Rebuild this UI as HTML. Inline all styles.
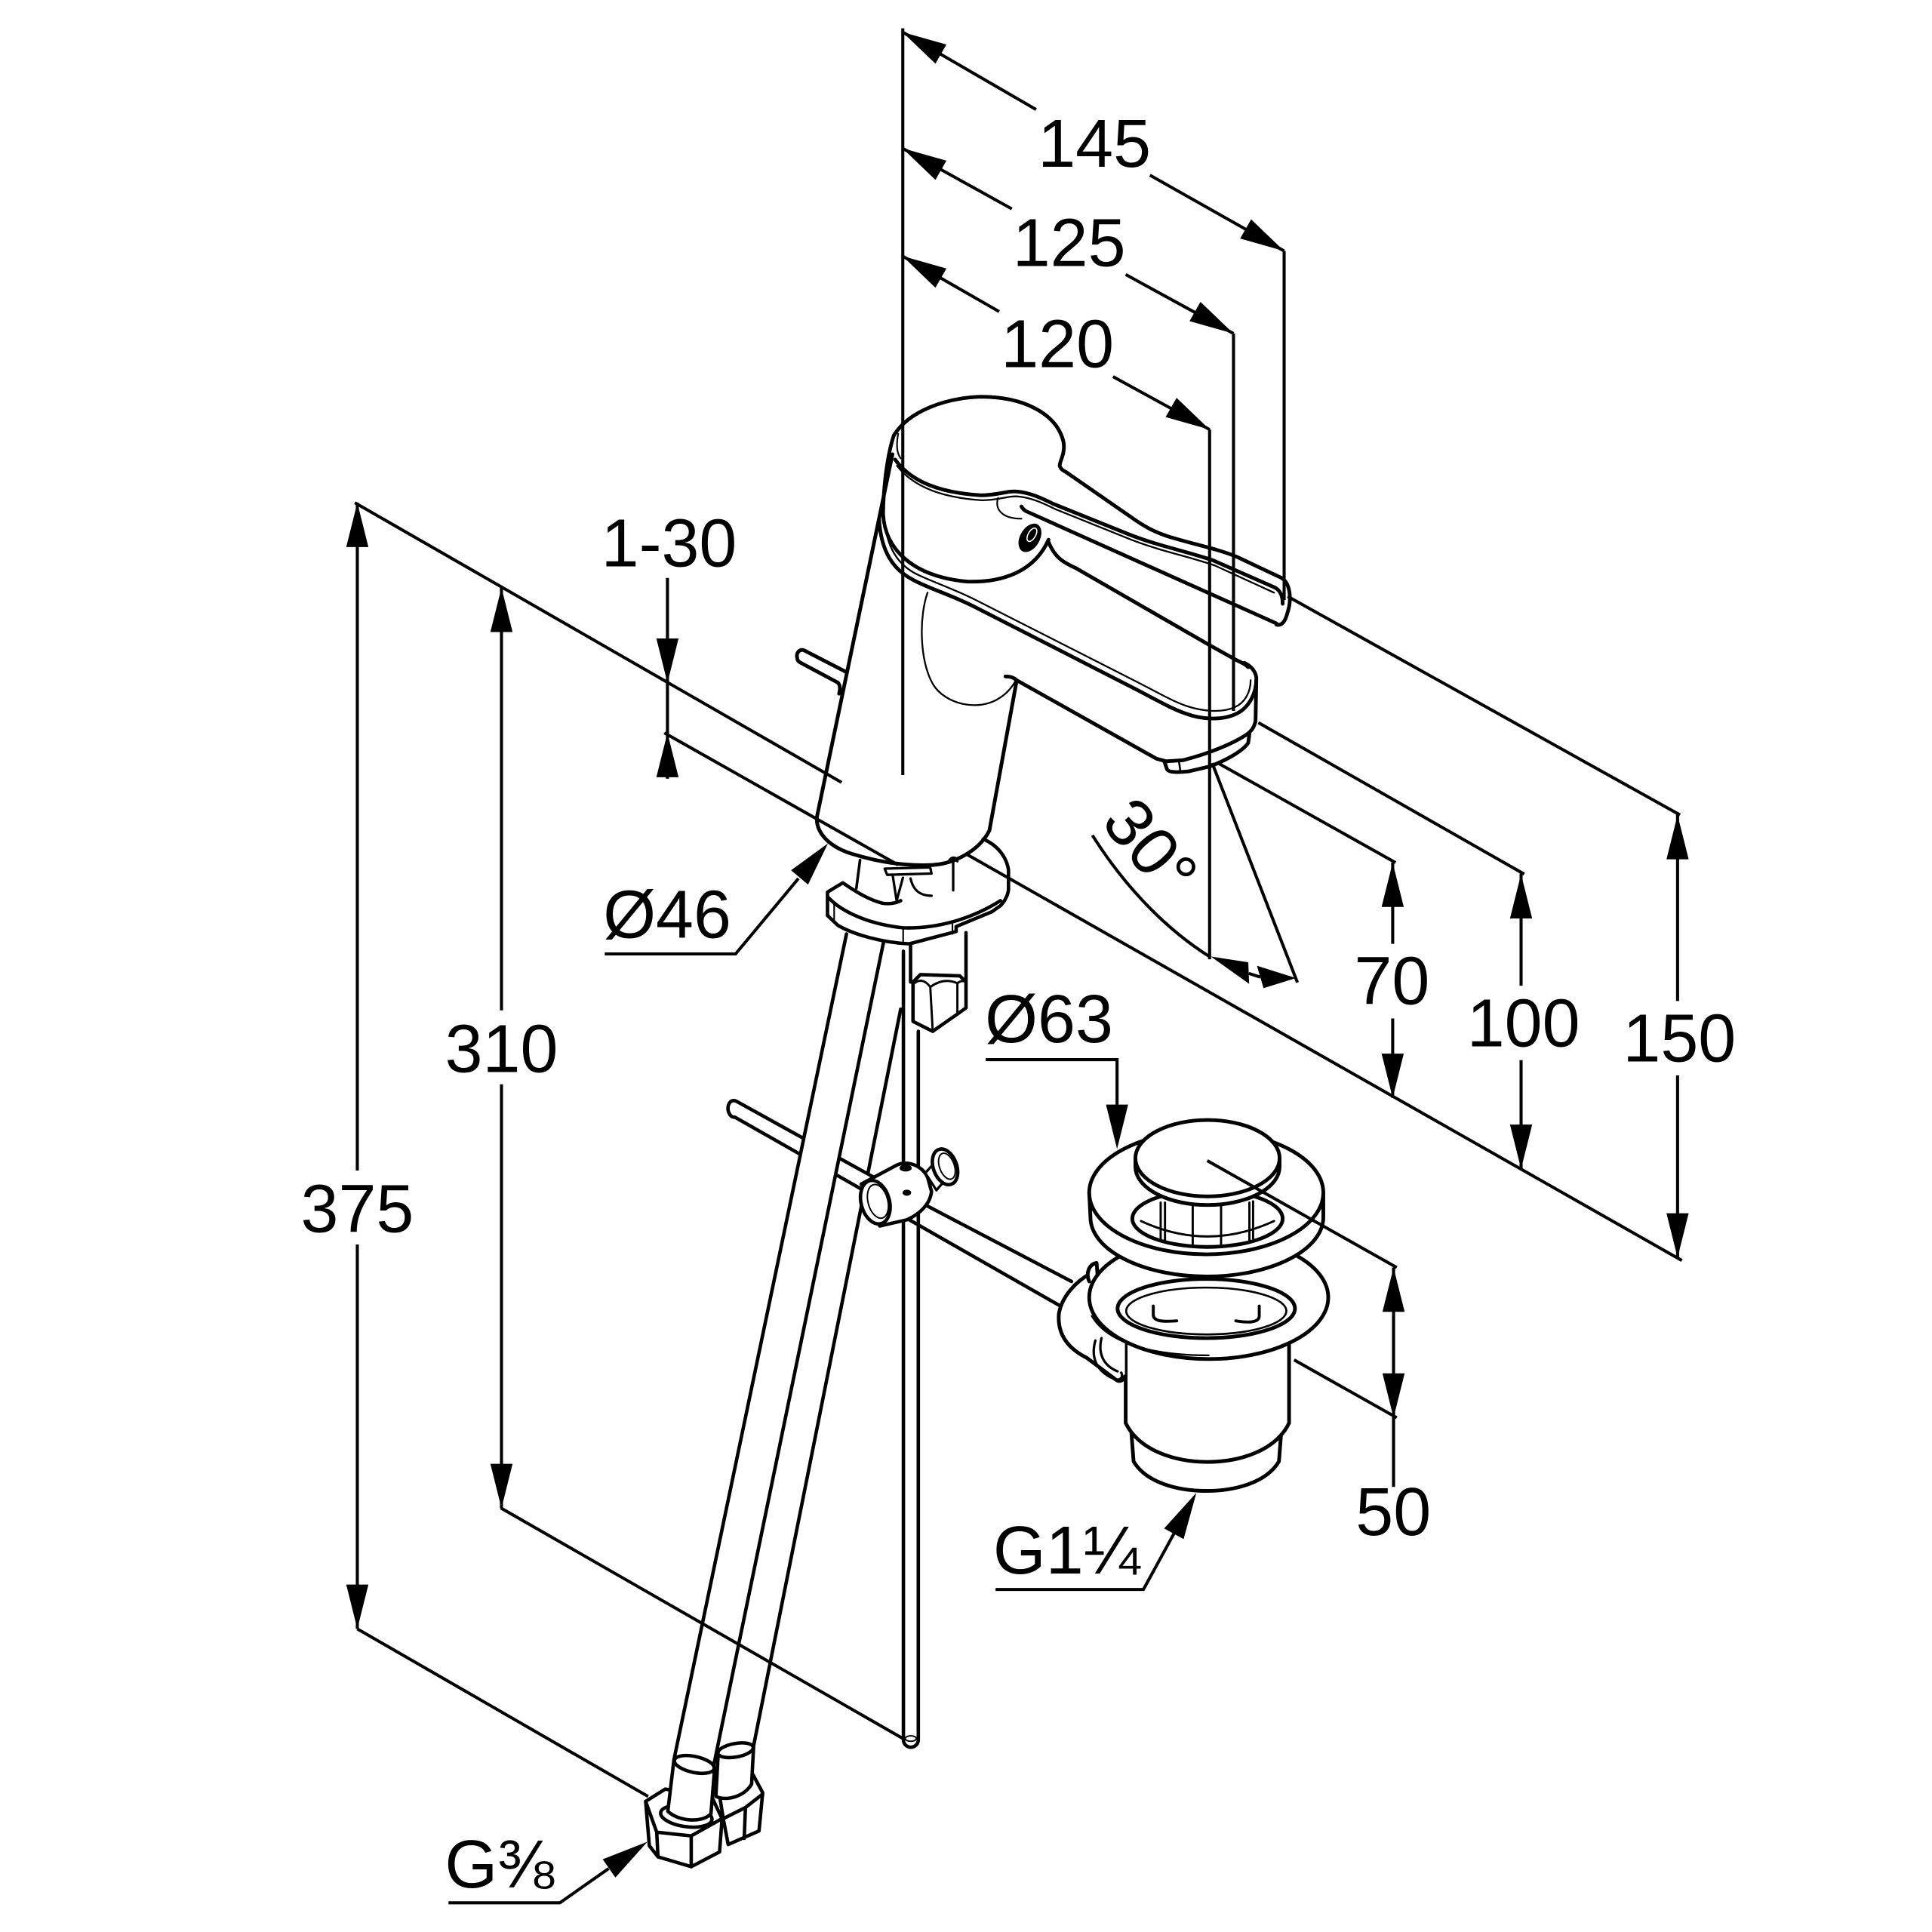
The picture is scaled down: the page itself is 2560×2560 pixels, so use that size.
<!DOCTYPE html>
<html><head><meta charset="utf-8"><style>html,body{margin:0;padding:0;background:#fff}svg{display:block}</style></head>
<body>
<svg xmlns="http://www.w3.org/2000/svg" width="2560" height="2560" viewBox="0 0 1568 1568">
<rect width="1568" height="1568" fill="#fff"/>

<!-- ===== HOSES / RODS (back) ===== -->
<g stroke="#000" stroke-width="2.8" stroke-linejoin="round" stroke-linecap="round">
  <!-- hose 2 -->
  <polygon points="705,795 731,819 611,1420 583,1426" fill="#fff" stroke="none"/>
  <path d="M731,819 L611,1420" fill="none"/>
  <!-- pop-up rod left part -->
  <path d="M712,957 L597.7,893.8 C592,891 589,899 592,904 C593,906 595,907 596.5,906.7 L706,969" fill="#fff"/>
  <!-- hose 1 -->
  <polygon points="687,758 717,765 579,1434 547,1428" fill="#fff" stroke="none"/>
  <path d="M687,758 L547,1428 M717,765 L579,1434" fill="none"/>
  <!-- vertical pull rod -->
  <path d="M733.2,772 L733.2,1412 A6 6 0 0 0 745.3,1412 L745.3,837" fill="#fff"/>
  <ellipse cx="739.2" cy="1411" rx="4.5" ry="2.2" fill="none" stroke-width="1.2"/>
  <!-- rod right part to drain -->
  <path d="M738.9,971.6 L869.6,1040 M730.8,985.9 L861.4,1060.4" fill="none"/>
  <!-- clamp -->
  <path d="M699,961 L727,946 C736,941 749,946 753,956 L756,967 C755,977 747,985 736,990 L714,995 Z" fill="#fff"/>
  <path d="M751,952 L759,943 L771,953 L760,966 Z" fill="#fff" stroke-width="2"/>
  <ellipse cx="767" cy="947" rx="9.5" ry="15" transform="rotate(-20 767 947)" fill="#fff"/>
  <ellipse cx="768.5" cy="946.5" rx="6" ry="11" transform="rotate(-20 768.5 946.5)" fill="none" stroke-width="1.2"/>
  <ellipse cx="710.4" cy="975.7" rx="11.5" ry="18" transform="rotate(-15 710.4 975.7)" fill="#fff"/>
  <ellipse cx="712.5" cy="975" rx="8" ry="14" transform="rotate(-15 712.5 975)" fill="none" stroke-width="1.2"/>
  <ellipse cx="735" cy="948" rx="5" ry="2.8" fill="#000" stroke="none"/>
  <ellipse cx="736" cy="968" rx="3.5" ry="2.5" fill="#000" stroke="none"/>

  <!-- nut 2 + sleeve 2 -->
  <polygon points="583,1451 598,1439 611,1440 619,1455 616,1486 591,1497 587,1476" fill="#fff"/>
  <path d="M587,1476 L605,1467 L619,1456 M605,1467 L604,1492" fill="none"/>
  <path d="M583,1421 L581,1458 C590,1462 604,1458 610,1448 L611.6,1418 Z" fill="#fff"/>
  <ellipse cx="597" cy="1420.5" rx="14.5" ry="5.5" transform="rotate(-10 597 1420.5)" fill="#fff"/>
  <!-- nut 1 + sleeve 1 -->
  <polygon points="524,1462 540,1452 578,1459 586,1476 584,1503 561,1515 534,1507 527,1498" fill="#fff"/>
  <path d="M524,1462 L533,1487 L561,1490 L586,1476 M533,1487 L534,1507 M561,1490 L561,1515" fill="none"/>
  <ellipse cx="557" cy="1474" rx="21" ry="8.5" transform="rotate(8 557 1474)" fill="none"/>
  <path d="M547,1428 L542,1470 C550,1478 570,1480 577,1472 L580,1435 Z" fill="#fff"/>
  <ellipse cx="563.5" cy="1432" rx="16.5" ry="6.5" transform="rotate(12 563.5 1432)" fill="#fff"/>
</g>

<!-- ===== ESCUTCHEON / NUT ===== -->
<g stroke="#000" stroke-width="2.8" stroke-linejoin="round" stroke-linecap="round">
  <path d="M671.6,743 L671.6,724 L684,716.5 C692,722 704,730 716,733 L731,731 L760,705 L798,681 C810,686 817,696 818.5,706 L818.5,722 C818,727 815,732 812,735 L805,740 L776,752 L776,756 L738,766 C715,765 692,758 680,751 Z" fill="#fff" stroke="none"/>
  <path d="M671.6,743 L671.6,724 L684,716.5 C692,722 704,730 716,733 C722,734 727,733 731,731" fill="none"/>
  <path d="M798,681 C810,686 817,696 818.5,706 L818.5,722 C818,727 815,732 812,735 L805,740 L776,752 L776,756 L738,766 C715,765 692,758 680,751 L671.6,743" fill="none"/>
  <path d="M672.6,728.7 C683,740 705,750 733,753 C760,754 788,746 812,731" fill="none"/>
  <path d="M733,753 L733,766 M773,750 L773,758 M677,733 L677,747" fill="none" stroke-width="1.3"/>
  <path d="M739,766 L739,797 M784,757 L784,797" fill="none"/>
  <polygon points="741,797 747,791 779,792 784,797 784,818 777,823 757,837 741,829" fill="#fff"/>
  <path d="M741,799 Q748,792 755,801 Q766,793 777,798 Q781,795 784,797 M755,801 L757,837 M777,798 L777,823" fill="none" stroke-width="1.8"/>
</g>

<!-- ===== FAUCET BODY ===== -->
<g fill="none" stroke="#000" stroke-width="3" stroke-linejoin="round" stroke-linecap="round">
  <!-- lever top outline -->
  <path d="M725.4,353.4 C738,333 768,323 796,322 C830,322 857,335 863,358 C865,368 860,374 860,378 C861,381 863,382 865,383 L917,419 C928,427 937,432 950,436 C970,442 990,446 1004,452 L1040,469 C1048,474 1048,488 1045,497 C1043,505 1040,508 1036,507"/>
  <!-- lever underside -->
  <path d="M829,411 C830,413 831,414 833,415 L1036,506"/>
  <!-- bevel double line -->
  <path d="M726.5,373 C740,392 765,400 796,402 C810,402 818,398 826,399 C836,400 845,404 855,409 L917,434 C940,443 965,448 985,455 L1035,477 C1040,480 1041,485 1041,490"/>
  <path d="M728,378 C742,396 766,404 797,406 C811,406 819,402 827,403 C837,404 846,408 856,413 L918,438 C941,447 966,452 986,459 L1034,481" stroke-width="1.4"/>
  <path d="M729,352 C727,362 728,368 731,372" stroke-width="1.3"/>
  <!-- handle side and bottom -->
  <path d="M725.4,353.4 C720,370 717,395 716.7,417"/>
  <path d="M716.7,417 C718,445 740,468 785,472 C815,473 840,463 851,438"/>
  <!-- ring + spout near edge -->
  <path d="M713.4,421 C715,448 725,462 740,470 C752,477 770,482 790,492 L916.8,556.8 C935,566 950,575 962,579 C975,584 992,585 1004,579 C1014,574 1020,562 1019.6,550 C1019,545 1016,541 1010,538"/>
  <path d="M718,423 C720,446 730,459 744,466 C756,472 772,477 792,487 L918,551 C936,560 951,569 963,573 C975,577 991,579 1002,574 C1011,570 1015,561 1015,552" stroke-width="1.4"/>
  <!-- spout far edge -->
  <path d="M851,440 C856,452 862,456 873,461 L982.4,524 L1004,536 C1008,538 1011,539 1013,541.5"/>
  <!-- spout right end face -->
  <path d="M1019.6,552 L1019,585 C1018,590 1016,593 1012,596 C1000,604 980,612 960,617 L945,618"/>
  <!-- aerator -->
  <path d="M945,618 L947,624 C948,627 955,627 965,626 L982,622 C995,617 1008,610 1013,603 L1014,596"/>
  <path d="M957,619 L958,626 M982,614 L982,622" stroke-width="1.6"/>
  <!-- spout bottom edge -->
  <path d="M816,549 C820,549 823,550 825,552 L938.7,615.8 L947,618"/>
  <!-- body edges -->
  <path d="M825,553 L803,674"/>
  <path d="M724.3,368.7 L663,663"/>
  <path d="M663,663 C662,675 672,688 695,694 C715,700 735,703 757,702 C775,701 795,690 803,674"/>
  <!-- thin underside curve -->
  <path d="M752.8,481 C746,500 746,535 757,555 C767,572 795,578 812,566 C818,562 822,557 825,551" stroke-width="1.4"/>
  <path d="M810,404 C807,414 814,421 829,421" stroke-width="1.3"/>
  <!-- pop-up lever stub -->
  <path d="M686,545 L653,528 C649,526 646,530 647,534 C647,536 648,537 650,538 L680,554 C682,556 682,560 681,563"/>
  <!-- under body details -->
  <path d="M698,698 L695,721" stroke-width="2.2"/>
  <path d="M718,705 L755,704 L756,709 L720,710 Z" stroke-width="2"/>
  <path d="M724.6,711 L727.7,731 L732.8,712.4 M739,713 C741,722 746,727 756,727 M773.6,697 L773.6,722.6 M770,699 C772,695 776,695 777,699" stroke-width="2"/>
</g>
<ellipse cx="835.9" cy="436.5" rx="8" ry="12.5" transform="rotate(30 835.9 436.5)" fill="#000"/>
<ellipse cx="837.5" cy="434" rx="3" ry="6" transform="rotate(30 837.5 434)" fill="none" stroke="#fff" stroke-width="1"/>

<!-- ===== DRAIN ===== -->
<g stroke="#000" stroke-width="3" stroke-linejoin="round" stroke-linecap="round">
  <path d="M918,1160 L920,1186 C930,1203 955,1210 979,1210 C1003,1210 1028,1203 1038,1186 L1040,1160 Z" fill="#fff"/>
  <path d="M913.6,1060 L913.6,1155 C925,1178 955,1186.5 980,1186.5 C1005,1186.5 1035,1178 1046.2,1155 L1046.2,1060 Z" fill="#fff"/>
  <!-- side housing -->
  <path d="M886,1033 C873,1040 862,1052 859.4,1066 C858,1082 866,1094 882,1102 L906,1120 L913,1118 L913,1060 L886,1040 Z" fill="#fff" stroke="none"/>
  <path d="M886,1033 C873,1040 862,1052 859.4,1066 C858,1082 866,1094 882,1102 L906,1120 C909,1122 912,1120 913,1117" fill="none"/>
  <path d="M884,1040 C881,1033 884,1026 890,1025 L891,1038" fill="#fff"/>
  <!-- collar -->
  <ellipse cx="981" cy="1053" rx="97" ry="50" fill="#fff"/>
  <path d="M886,1068 C900,1092 940,1100 981,1100" fill="none" stroke-width="1.4"/>
  <ellipse cx="979" cy="1062" rx="72" ry="24" fill="#fff"/>
  <ellipse cx="979" cy="1064" rx="65" ry="19" fill="none" stroke-width="1.6"/>
  <path d="M936,1060 L936,1067 C936,1072 942,1073 955,1072 M1022,1060 L1022,1068 C1022,1073 1015,1074 1003,1072" fill="none" stroke-width="2.4"/>
  <path d="M889,1088 C885,1102 890,1113 904,1119 C909,1121 912,1118 910,1114 M894,1086 C891,1098 895,1108 907,1113" fill="none" stroke-width="2"/>
  <!-- flange -->
  <path d="M884,968 L885,988 A94.5 48 0 0 0 1074,988 L1074,968 Z" fill="#fff"/>
  <ellipse cx="979" cy="968" rx="95" ry="50" fill="#fff"/>
  <!-- opening + cage -->
  <ellipse cx="980" cy="989" rx="61" ry="23" fill="#fff"/>
  <path d="M942,976 L942,1006 M945.5,976 L945.5,1007 M968,978 L968,1011 M991,978 L991,1011 M1014,976 L1014,1007 M1017,975 L1017,1005" fill="none" stroke-width="1.8"/>
  <path d="M926,991 Q980,1016 1034,991" fill="none" stroke-width="1.8"/>
  <!-- cap -->
  <path d="M921.5,940 L921.5,947 A58.5 31 0 0 0 1038.5,947 L1038.5,940 Z" fill="#fff"/>
  <ellipse cx="980" cy="940" rx="58.5" ry="31" fill="#fff"/>
</g>

<!-- ===== DIMENSION LINES ===== -->
<g fill="none" stroke="#000" stroke-width="2.5" stroke-linecap="butt">
  <path d="M732.7,23 L732.7,629"/>
  <path d="M732.4,26 L840.9,88.9 M933.3,142.2 L1042.2,203.7"/>
  <path d="M732.4,120.3 L821.2,169.5 M913.6,222.8 L1001.1,270.7"/>
  <path d="M732.4,207.8 L810.9,252.9 M903.3,305.7 L981.7,348.6"/>
  <path d="M1042.2,203.7 L1042.2,487 M1001.1,270.7 L1001.1,577 M981.7,348.6 L981.7,778.6"/>
  <path d="M288,408 L683,635 M784,693 L1365,1023"/>
  <path d="M539.2,594.8 L729,702"/>
  <path d="M988.5,619.3 L1132.6,700.1"/>
  <path d="M1021.3,586.5 L1237,709.4"/>
  <path d="M1045,484 L1363.5,661.4"/>
  <path d="M406.5,1223.9 L734.6,1412"/>
  <path d="M290,1322 L526,1458"/>
  <path d="M979.8,942 L1133.6,1028.7 M1050.3,1103.7 L1133.6,1150.6"/>
  <path d="M983.8,619.3 L1053,797.4"/>
  <path d="M886.6,677.9 C908,712 940,750 981.5,776.3"/>
  <path d="M1013.5,790 L1022.8,793"/>
  <path d="M290,408 V950 M290,1010 V1322"/>
  <path d="M407,477 V820 M407,880 V1224"/>
  <path d="M541.7,469 V632"/>
  <path d="M1130.3,700 V766 M1130.3,826.6 V891"/>
  <path d="M1234.5,709 V800 M1234.5,860.4 V948.7"/>
  <path d="M1361.5,661 V812.4 M1361.5,872.7 V1020.7"/>
  <path d="M1131,1028.7 V1206.8"/>
  <path d="M800,860 H906.6 V897"/>
  <path d="M490.8,774.2 H597 L648,713"/>
  <path d="M808,1290 H928 L952.7,1244.8"/>
  <path d="M364,1544.3 H454.4 L494,1516.5"/>
</g>

<!-- ===== ARROWHEADS ===== -->
<g fill="#000" stroke="none">
  <polygon points="732.4,26 759.2,51.7 768.1,36.1"/>
  <polygon points="732.4,120.3 759.2,146 768.1,130.4"/>
  <polygon points="732.4,207.8 759.2,233.5 768.1,217.9"/>
  <polygon points="1042.2,203.7 1006.5,193.6 1015.4,178"/>
  <polygon points="1001.1,270.7 965.4,260.6 974.3,245"/>
  <polygon points="981.7,348.6 946,338.5 954.9,322.9"/>
  <polygon points="290,408 281,444 299,444"/>
  <polygon points="290,1322 281,1286 299,1286"/>
  <polygon points="407,477 398,513 416,513"/>
  <polygon points="407,1224 398,1188 416,1188"/>
  <polygon points="541.7,554.2 532.7,518.2 550.7,518.2"/>
  <polygon points="541.7,594.8 532.7,630.8 550.7,630.8"/>
  <polygon points="1130.3,700.1 1121.3,736.1 1139.3,736.1"/>
  <polygon points="1130.3,891.1 1121.3,855.1 1139.3,855.1"/>
  <polygon points="1234.5,709.4 1225.5,745.4 1243.5,745.4"/>
  <polygon points="1234.5,948.7 1225.5,912.7 1243.5,912.7"/>
  <polygon points="1361.5,661.4 1352.5,697.4 1370.5,697.4"/>
  <polygon points="1361.5,1020.7 1352.5,984.7 1370.5,984.7"/>
  <polygon points="1131,1028.7 1122,1064.7 1140,1064.7"/>
  <polygon points="1131,1150.6 1122,1114.6 1140,1114.6"/>
  <polygon points="906.6,932.5 897.6,896.5 915.6,896.5"/>
  <polygon points="672,684.5 655.8,717.9 642,706.3"/>
  <polygon points="971,1211.5 960.6,1249.1 944.8,1240.5"/>
  <polygon points="525.5,1494.7 499.4,1523.8 489.2,1509"/>
  <polygon points="982.7,776.3 1013.1,781 1013.8,798.5"/>
  <polygon points="1051.8,793.8 1020.1,783.8 1025.5,802"/>
</g>

<!-- ===== TEXT ===== -->
<g font-family="'Liberation Sans', Arial, 'DejaVu Sans', sans-serif" font-size="55" fill="#000">
  <text x="888.2" y="135.3" text-anchor="middle">145</text>
  <text x="867.7" y="216" text-anchor="middle">125</text>
  <text x="858.2" y="298" text-anchor="middle">120</text>
  <text x="543" y="459.6" text-anchor="middle">1-30</text>
  <text x="541.5" y="761" text-anchor="middle">Ø46</text>
  <text x="407" y="870" text-anchor="middle">310</text>
  <text x="290" y="1000" text-anchor="middle">375</text>
  <text x="1129.7" y="814.9" text-anchor="middle">70</text>
  <text x="1236.4" y="849.2" text-anchor="middle">100</text>
  <text x="1363" y="861.4" text-anchor="middle">150</text>
  <text x="851.4" y="846" text-anchor="middle">Ø63</text>
  <text x="1130.8" y="1245.9" text-anchor="middle">50</text>
  <text x="806" y="1277">G1¼</text>
  <text x="361" y="1532">G⅜</text>
  <text transform="translate(934.6,687) rotate(50)" x="0" y="20" text-anchor="middle">30°</text>
</g>
</svg>
</body></html>
